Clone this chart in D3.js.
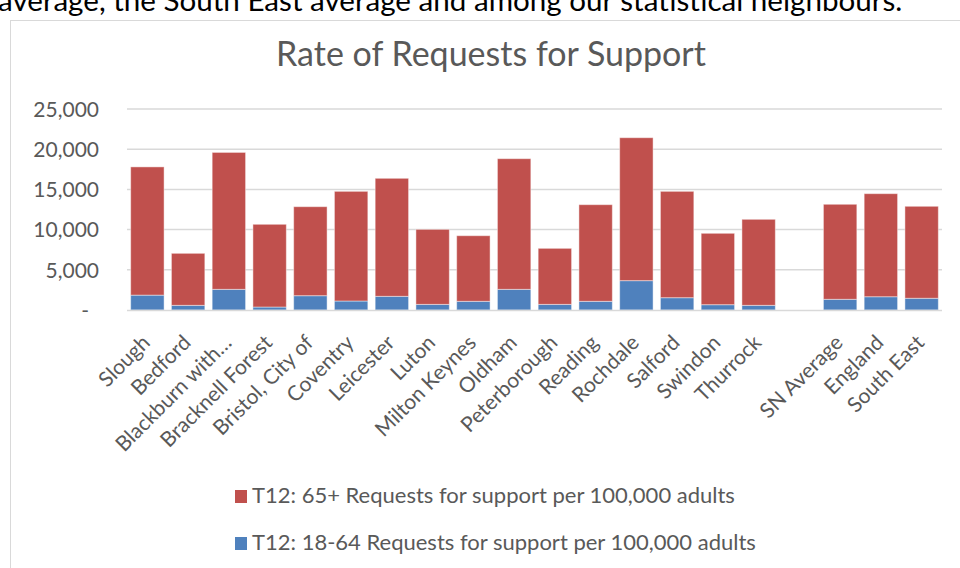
<!DOCTYPE html>
<html>
<head>
<meta charset="utf-8">
<script src="https://cdn.jsdelivr.net/npm/d3@7"></script>
<style>
  html, body { margin: 0; padding: 0; background: #fff; overflow: hidden; }
  svg { display: block; font-family: Lato, "Open Sans", sans-serif; }
</style>
</head>
<body>
<svg id="chart" width="960" height="568"></svg>
<script>
// ---- data ----
const categories = ["Slough","Bedford","Blackburn with…","Bracknell Forest","Bristol, City of","Coventry","Leicester","Luton","Milton Keynes","Oldham","Peterborough","Reading","Rochdale","Salford","Swindon","Thurrock","","SN Average","England","South East"];
const age18to64 = [1850,580,2570,370,1780,1120,1700,700,1080,2570,700,1080,3650,1530,660,580,null,1330,1650,1460];
const age65plus = [15950,6470,17030,10290,11070,13640,14680,9330,8160,16250,6970,12020,17780,13230,8880,10700,null,11820,12820,11440];
const yTicks = [0,5000,10000,15000,20000,25000];
const seriesNames = ["T12: 65+ Requests for support per 100,000 adults","T12: 18-64 Requests for support per 100,000 adults"];
const seriesColors = ["#C0504D","#4F81BD"];
const titleText = "Rate of Requests for Support";
const bodyText = "average, the South East average and among our statistical neighbours.";

// ---- layout ----
const svg = d3.select("#chart");
const plot = {left: 127, right: 942, top: 109, bottom: 310};
const grey = "#595959";

// document text above (partly cut off)
svg.append("text").attr("x", -2).attr("y", 11)
  .attr("font-size", 29.6).attr("fill", "#000").text(bodyText);

// chart border
svg.append("rect").attr("x", 10.5).attr("y", 20.5).attr("width", 1000).attr("height", 600)
  .attr("fill", "#fff").attr("stroke", "#d9d9d9").attr("stroke-width", 1);

// title
svg.append("text").attr("x", 491).attr("y", 66).attr("text-anchor", "middle")
  .attr("font-size", 34).attr("fill", grey).text(titleText);

const x = d3.scaleBand().domain(categories).range([plot.left, plot.right])
  .paddingInner(0.18).paddingOuter(0.09);
const y = d3.scaleLinear().domain([0, 25000]).range([plot.bottom, plot.top]);

// gridlines
svg.append("g").selectAll("line").data(yTicks.filter(d => d > 0)).join("line")
  .attr("x1", plot.left).attr("x2", plot.right)
  .attr("y1", d => y(d)).attr("y2", d => y(d))
  .attr("stroke", "#d9d9d9").attr("stroke-width", 1.5);

// y axis labels
const yAxis = d3.axisLeft(y).tickValues(yTicks).tickSize(0).tickPadding(0)
  .tickFormat(d => d === 0 ? "-" : d3.format(",")(d));
const yg = svg.append("g").attr("transform", `translate(${99},0)`).call(yAxis);
yg.select(".domain").remove();
yg.selectAll("text").attr("font-size", 21).attr("fill", grey).attr("font-family", "Lato, sans-serif")
  .attr("dy", "0.35em");
yg.selectAll(".tick").filter(d => d === 0).select("text").attr("x", -10);

// stacked bars
const rows = categories.map((c, i) => ({cat: c, a: age18to64[i], b: age65plus[i]}))
  .filter(d => d.a != null);
const stack = d3.stack().keys(["a", "b"])(rows);
const colorFor = {a: seriesColors[1], b: seriesColors[0]};
svg.append("g").selectAll("g").data(stack).join("g")
  .attr("fill", s => colorFor[s.key])
  .selectAll("rect").data(s => s).join("rect")
  .attr("x", d => x(d.data.cat))
  .attr("width", x.bandwidth())
  .attr("y", d => y(d[1]))
  .attr("height", d => y(d[0]) - y(d[1]))
  .attr("stroke", "#fff").attr("stroke-opacity", 0.45).attr("stroke-width", 1);

// x axis baseline
svg.append("line").attr("x1", plot.left).attr("x2", plot.right)
  .attr("y1", plot.bottom + 0.5).attr("y2", plot.bottom + 0.5)
  .attr("stroke", "#d9d9d9").attr("stroke-width", 1.5);

// x labels
const xAxis = d3.axisBottom(x).tickSize(0).tickPadding(0);
const xg = svg.append("g").attr("transform", `translate(0,${plot.bottom})`).call(xAxis);
xg.select(".domain").remove();
xg.selectAll("text")
  .attr("font-size", 21).attr("fill", grey).attr("font-family", "Lato, sans-serif")
  .attr("text-anchor", "end").attr("y", 0).attr("dy", 0)
  .attr("transform", "translate(4,34) rotate(-45)");

// legend
const lg = svg.append("g").selectAll("g").data(seriesNames).join("g")
  .attr("transform", (d, i) => `translate(235,${490 + i * 47})`);
lg.append("rect").attr("width", 12).attr("height", 13).attr("fill", (d, i) => seriesColors[i]);
lg.append("text").attr("x", 17).attr("y", 13).attr("font-size", 22).attr("fill", grey).text(d => d);
</script>
</body>
</html>
